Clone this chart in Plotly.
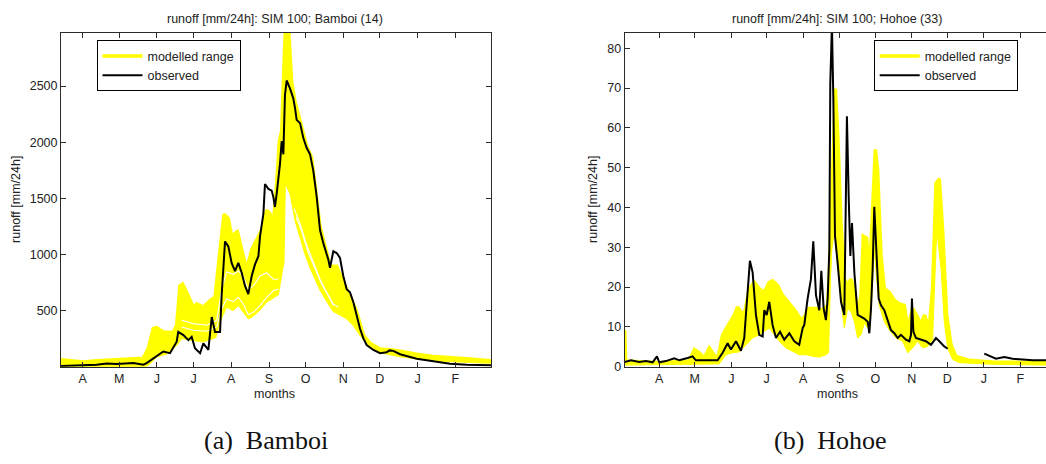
import plotly.graph_objects as go

# ---------------- data (day 0 = 1 April) ----------------
month_ticks = [0, 30, 61, 91, 122, 153, 183, 214, 244, 275, 306]
month_labels = ["A", "M", "J", "J", "A", "S", "O", "N", "D", "J", "F"]

# Bamboi (14)
bam_obs_day = [-17.8, 11.5, 19.7, 27.9, 41.6, 49.8, 52.5, 60.7, 66.2, 71.7, 77.2, 78.5, 82.7, 86.8, 89.5,
               92.2, 96.4, 99.1, 103.2, 106, 108.7, 112.8, 114.1, 116.9, 119.6, 122.3, 125.1, 127.8, 130.6,
               133.3, 136, 138.8, 141.5, 144.3, 145.6, 148.4, 149.7, 152.5, 155.2, 156.6, 157.9, 159.3, 162,
               163.4, 164.8, 166.1, 167.5, 170.3, 173, 174.4, 175.7, 178.5, 181.2, 183.9, 186.7, 189.4, 192.2,
               194.9, 197.6, 201.7, 203.1, 205.8, 208.6, 211.3, 214, 216.8, 219.5, 222.3, 225, 227.7, 230.5,
               233.2, 238.7, 244.2, 249.6, 252, 255.1, 260.6, 274.3, 288, 301.7, 315.4, 335.3]
bam_obs_val = [5, 18, 29, 23, 32, 18, 32, 91, 135, 120, 222, 310, 281, 237, 266,
               164, 120, 208, 149, 442, 310, 310, 632, 1116, 1072, 925, 852, 925, 837,
               720, 647, 808, 911, 984, 1159, 1364, 1628, 1584, 1569, 1511, 1423, 1540, 1804,
               2009, 1892, 2419, 2550, 2477, 2389, 2301, 2199, 2170, 2038, 1950, 1892, 1745, 1511,
               1218, 1101, 955, 881, 1028, 1013, 969, 808, 691, 662, 574, 457, 340, 252,
               193, 149, 120, 129, 145, 141, 111, 70, 47, 26, 18, 12]

bam_up_day = [-17.8, 0.5, 11.5, 27.9, 41.6, 49.8, 53.9, 58, 60.7, 66.2, 74.4, 77.2, 79.9, 82.1, 85.4, 90.9,
              93.6, 99.1, 104.6, 108.7, 112.8, 116.1, 119.6, 122.3, 125.1, 127, 130.6, 134.7, 138.8, 142.9,
              147, 151.1, 153.8, 156.6, 159.3, 161.5, 163.4, 165.3, 166.4, 169.2, 171.6, 174.4, 178.5, 183.9,
              188, 190.8, 194.9, 199, 203.1, 208.6, 214, 219.5, 225, 230.5, 236, 244.2, 255.1, 274.3, 288,
              315.4, 335.3]
bam_up_val = [61, 41, 53, 61, 70, 76, 164, 340, 348, 310, 305, 369, 720, 735, 662, 530,
              559, 530, 589, 618, 1042, 1359, 1320, 1159, 1189, 1203, 1042, 867, 1042, 1130,
              1218, 1394, 1364, 1277, 1628, 2009, 2096, 2682, 2990, 2990, 2536, 2360, 2184, 1965,
              1862, 1628, 1247, 1072, 896, 896, 750, 632, 486, 281, 208, 158, 149, 111, 91,
              70, 53]

bam_lo_day = [-17.8, 49.8, 53.9, 60.7, 69.5, 77.2, 81.4, 87.1, 92.2, 98.5, 104.6, 109.4, 112.8, 118.2,
              123.6, 127.8, 131.9, 136, 140.1, 145.6, 151.1, 156.6, 160.7, 164.8, 165.3, 166.4, 170.3,
              174.4, 178.5, 182.6, 186.7, 190.8, 194.9, 200.4, 205.8, 211.3, 216.8, 222.3, 227.7, 233.2,
              238.7, 246.9, 260.6, 288, 335.3]
bam_lo_val = [0, 0, 10, 85, 115, 190, 250, 240, 230, 220, 240, 260, 400, 530,
              500, 545, 485, 425, 450, 505, 575, 615, 640, 900, 925, 1628, 1540,
              1300, 1150, 1000, 880, 780, 680, 580, 490, 460, 425, 365, 278, 205,
              160, 118, 88, 50, 30]

# white gaps between ensemble members
bam_gap1_day = [81.3, 90.9, 101.8, 110.1, 114.1, 118.2, 123.7, 127.8, 131.9, 136, 140.2, 145.6, 151.1, 156.6, 160.7]
bam_gap1_val = [413, 384, 369, 413, 691, 843, 823, 852, 808, 691, 720, 808, 837, 779, 779]
bam_gap2_day = [81.3, 90.9, 101.8, 110.1, 114.1, 118.2, 123.7, 127.8, 131.9, 136, 140.2, 145.6, 151.1, 156.6, 160.7]
bam_gap2_val = [354, 325, 316, 354, 515, 603, 580, 618, 559, 463, 486, 545, 618, 676, 691]
bam_gap3_day = [173.6, 178.5, 183.9, 189.4, 194.9, 200.4, 205.8, 209.9]
bam_gap3_val = [1408, 1277, 1086, 925, 779, 662, 559, 530]
bam_gap4_day = [175.2, 179.9, 185.3, 190.8, 196.3, 201.7, 205.8]
bam_gap4_val = [1335, 1203, 1013, 867, 735, 632, 545]

# Hohoe (33)
hoh_obs_day = [-29.3, -24, -17, -11.3, -5.6, -2, 0, 5.6, 12.7, 17, 24, 28.2, 31, 39.5, 49.4, 53.7, 57.9,
               60.7, 65, 69.2, 72, 73.4, 74.9, 76.8, 79.1, 81.9, 84.7, 87.6, 89, 91, 93.2, 96, 98.9, 102.3,
               105.9, 110.2, 114.4, 118.6, 121.5, 122.9, 125.7, 128.5, 130.5, 132.8, 135.6, 137.3, 139.3,
               141.2, 142.7, 144.1, 144.9, 146.3, 147.5, 148.9, 151.1, 154, 156.8, 158.2, 159, 160.5, 161.9,
               163.3, 165.3, 168.1, 170.9, 173.7, 176.6, 178, 179.4, 180.8, 182.2, 184.2, 185.9, 187.9,
               190.7, 193.5, 196.3, 199.2, 202, 204.8, 209, 211.9, 213.3, 214.1, 215.3, 217.5, 221.8, 226,
               230.2, 234.5, 237.3, 241.5, 244.4, 260, 275.4, 281.1, 285.3, 292.4, 299.4, 307.9, 316.4, 327.7]
hoh_obs_val = [1.2, 1.6, 1.2, 1.4, 1.1, 2.6, 1.1, 1.4, 2.1, 1.6, 2.2, 2.6, 1.6, 1.6, 1.6, 3.5, 5.9,
               4.3, 6.4, 4.0, 7.2, 13, 19.6, 26.6, 23.7, 13, 8.0, 7.6, 14.2, 13, 16.3, 10.5, 7.2, 8.8,
               6.8, 8.4, 6.4, 5.5, 9.7, 10.5, 17.1, 22, 31.5, 17.9, 14.2, 24.1, 14.6,
               11.7, 17.1, 29.5, 71.1, 86, 67.4, 32.8, 26.2, 16.3, 13, 55.9, 62.9, 42.7, 27.8,
               36.1, 23.7, 13, 12.5, 12.1, 11.3, 8.4, 14.6, 24.5, 40.2, 26.2, 17.1, 15.4,
               14.2, 11.7, 9.2, 8.4, 7.2, 8.0, 6.8, 6.4, 8.0, 17.1, 8.8, 7.2, 6.8, 6.4,
               5.5, 7.2, 6.4, 5.1, 4.5, None, 3.3, 2.6, 2.0, 2.4, 2.0, 1.8, 1.6, 1.6]

hoh_up_day = [-29.3, -28.5, 0, 25.4, 29.7, 33.9, 38.1, 42.4, 45.2, 49.4, 53.7, 59.3, 63.6, 66.4, 69.2, 72,
              76.3, 80.5, 84.7, 89, 93.2, 96, 100.3, 104.5, 110.2, 115.8, 120.1, 122.9, 127.1, 132.8, 138.4,
              142.7, 144.6, 146.9, 149.2, 151.1, 154, 156.8, 159.6, 162.4, 165.3, 168.1, 170.9, 172.9, 175.7,
              178, 180.8, 183.1, 185, 187.9, 190.7, 194.9, 199.2, 203.4, 207.6, 210.5, 214.7, 218.9, 221.8,
              224.6, 228.8, 231.6, 234.5, 237.3, 240.1, 243.5, 247.2, 251.4, 262.7, 282.5, 327.7]
hoh_up_val = [9.2, 1.4, 1.0, 1.4, 4.3, 3.5, 2.2, 4.7, 3.5, 1.8, 8.0, 10.9, 13, 15, 13.8, 13,
              19.6, 21.2, 19.6, 18.7, 21.2, 21.6, 20.4, 17.9, 15.8, 13.8, 11.7, 12.5, 14.6, 14.6, 14.2,
              15.4, 26.2, 49.3, 69.9, 59.2, 36.1, 22, 20.4, 22, 19.6, 13, 17.9, 32.8, 32.3,
              22, 42.7, 54.6, 49.3, 27.8, 19.6, 18.7, 16.7, 15.8, 15.4, 9.7, 14.6, 12.5, 10.5,
              13, 9.7, 19.6, 46, 47.2, 34.4, 13, 5.5, 2.6, 1.6, 1.2, 1.0]

hoh_lo_day = [-29.3, 50.8, 56.5, 62.1, 67.8, 73.4, 79.1, 84.7, 89, 93.2, 97.5, 101.7, 107.3, 113, 118.6,
              124.3, 129.9, 135.6, 141.2, 143.5, 145.5, 148.3, 151.1, 154, 156.8, 159.6, 162.4, 165.3,
              168.1, 170.9, 173.7, 176.6, 179.4, 182.2, 184.2, 186.4, 190.7, 194.9, 200.6, 206.2, 210.5,
              214.7, 218.9, 223.2, 227.4, 231.6, 235.1, 238.8, 241.5, 244.4, 248.6, 254.2, 282.5, 327.7]
hoh_lo_val = [0.4, 0.7, 3.0, 3.5, 3.7, 5.5, 7.2, 8.0, 8.8, 9.7, 8.0, 6.4, 4.7, 3.9, 3.0,
              3.0, 2.6, 2.4, 3.0, 3.5, 27.8, 34.4, 24.5, 16.3, 9.7, 14.6, 13.8, 11.3,
              7.2, 8.0, 10.9, 9.7, 13, 29.5, 22, 15.4, 11.3, 9.2, 7.2, 6.4, 3.5,
              4.7, 6.4, 4.7, 5.1, 6.8, 34.4, 24.5, 11.3, 4.7, 1.8, 1.0, 0.6, 0.4]

# ---------------- figure ----------------
W, H = 1046, 464
YEL = "#FFFF00"
AXC = "#2b2b2b"
SANS = "Liberation Sans, Arial, sans-serif"

fig = go.Figure()

def add_panel(xa, ya, leg, up_d, up_v, lo_d, lo_v, obs_d, obs_v, gaps):
    fig.add_trace(go.Scatter(x=up_d, y=up_v, mode="lines", line=dict(color=YEL, width=3.5),
                             name="modelled range", xaxis=xa, yaxis=ya, legend=leg, showlegend=True))
    fig.add_trace(go.Scatter(x=lo_d, y=lo_v, mode="lines", line=dict(color=YEL, width=1),
                             fill="tonexty", fillcolor=YEL, xaxis=xa, yaxis=ya, showlegend=False,
                             hoverinfo="skip"))
    for gd, gv in gaps:
        fig.add_trace(go.Scatter(x=gd, y=gv, mode="lines", line=dict(color="white", width=1.1),
                                 xaxis=xa, yaxis=ya, showlegend=False, hoverinfo="skip"))
    fig.add_trace(go.Scatter(x=obs_d, y=obs_v, mode="lines", line=dict(color="black", width=2),
                             name="observed", xaxis=xa, yaxis=ya, legend=leg, showlegend=True,
                             connectgaps=False))

add_panel("x", "y", "legend", bam_up_day, bam_up_val, bam_lo_day, bam_lo_val, bam_obs_day, bam_obs_val,
          [(bam_gap1_day, bam_gap1_val), (bam_gap2_day, bam_gap2_val),
           (bam_gap3_day, bam_gap3_val), (bam_gap4_day, bam_gap4_val)])
add_panel("x2", "y2", "legend2", hoh_up_day, hoh_up_val, hoh_lo_day, hoh_lo_val, hoh_obs_day, hoh_obs_val, [])

def px_x(p):
    return p / W

def px_y(p):
    return 1 - p / H

axis_common = dict(showline=True, linecolor=AXC, linewidth=1, ticks="inside", ticklen=5,
                   tickcolor=AXC, showgrid=False, zeroline=False,
                   tickfont=dict(family=SANS, size=12.5, color="#222"))

ydom = [px_y(372.3), px_y(33.3)]
leg_common = dict(xanchor="left", yanchor="top", bgcolor="white", bordercolor="black", borderwidth=1,
                  itemwidth=40, traceorder="normal", tracegroupgap=0,
                  font=dict(family=SANS, size=12.5, color="#222"))
fig.update_layout(
    width=W, height=H, autosize=False,
    margin=dict(l=0, r=0, t=0, b=0, pad=0),
    paper_bgcolor="white", plot_bgcolor="white",
    xaxis=dict(domain=[px_x(61), px_x(491)], range=[-17.8, 335.3], anchor="y",
               tickvals=month_ticks, ticktext=month_labels, mirror="ticks", **axis_common),
    yaxis=dict(domain=ydom, range=[0, 2975], anchor="x",
               tickvals=[500, 1000, 1500, 2000, 2500], mirror="ticks", **axis_common),
    xaxis2=dict(domain=[px_x(624.7), 1.0], range=[-29.3, 327.7], anchor="y2",
                tickvals=month_ticks, ticktext=month_labels, mirror="ticks", **axis_common),
    yaxis2=dict(domain=ydom, range=[0, 83.9], anchor="x2",
                tickvals=[0, 10, 20, 30, 40, 50, 60, 70, 80], mirror=False, **axis_common),
    legend=dict(x=px_x(96.5), y=px_y(41), **leg_common),
    legend2=dict(x=px_x(873.7), y=px_y(41), **leg_common),
    showlegend=True,
)

ann_font = dict(family=SANS, size=12.5, color="#222")
anns = [
    dict(text="runoff [mm/24h]: SIM 100; Bamboi (14)", x=px_x(275), y=px_y(19)),
    dict(text="runoff [mm/24h]: SIM 100; Hohoe (33)", x=px_x(837), y=px_y(19)),
    dict(text="months", x=px_x(274), y=px_y(400)),
    dict(text="months", x=px_x(837), y=px_y(400)),
    dict(text="runoff [mm/24h]", x=px_x(16), y=px_y(203), textangle=-90),
    dict(text="runoff [mm/24h]", x=px_x(593), y=px_y(203), textangle=-90),
]
for a in anns:
    fig.add_annotation(xref="paper", yref="paper", xanchor="center", yanchor="middle",
                       showarrow=False, font=ann_font, **a)

cap_font = dict(family="Liberation Serif, Times New Roman, serif", size=26, color="#111")
fig.add_annotation(text="(a)\u00a0\u00a0Bamboi", x=px_x(266), y=px_y(447), xref="paper", yref="paper",
                   xanchor="center", yanchor="middle", showarrow=False, font=cap_font)
fig.add_annotation(text="(b)\u00a0\u00a0Hohoe", x=px_x(830), y=px_y(447), xref="paper", yref="paper",
                   xanchor="center", yanchor="middle", showarrow=False, font=cap_font)

fig.write_html("out.html", config={"responsive": False})
